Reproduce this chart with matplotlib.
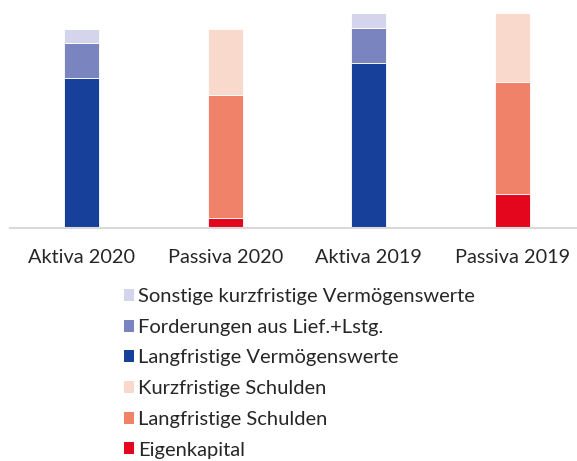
import matplotlib
matplotlib.use("Agg")
import matplotlib.pyplot as plt
from matplotlib.patches import Patch
import numpy as np

# Bilanzstruktur (relative units)
categories = ["Aktiva 2020", "Passiva 2020", "Aktiva 2019", "Passiva 2019"]

# Aktiva (bottom -> top)
langfristige_vw = [150.3, 0, 165.0, 0]
forderungen = [34.7, 0, 35.3, 0]
sonstige_kurzfr_vw = [13.7, 0, 14.4, 0]

# Passiva (bottom -> top)
eigenkapital = [0, 9.7, 0, 33.7]
langfristige_schulden = [0, 123.0, 0, 112.3]
kurzfristige_schulden = [0, 66.3, 0, 68.7]

series = [
    ("Langfristige Vermögenswerte", langfristige_vw, "#17409a"),
    ("Forderungen aus Lief.+Lstg.", forderungen, "#7a84bf"),
    ("Sonstige kurzfristige Vermögenswerte", sonstige_kurzfr_vw, "#d4d5ec"),
    ("Eigenkapital", eigenkapital, "#e3061d"),
    ("Langfristige Schulden", langfristige_schulden, "#ef8268"),
    ("Kurzfristige Schulden", kurzfristige_schulden, "#fad9cd"),
]
legend_order = [
    "Sonstige kurzfristige Vermögenswerte",
    "Forderungen aus Lief.+Lstg.",
    "Langfristige Vermögenswerte",
    "Kurzfristige Schulden",
    "Langfristige Schulden",
    "Eigenkapital",
]

plt.rcParams["font.family"] = ["Lato", "DejaVu Sans"]
text_color = "#262626"

fig = plt.figure(figsize=(5.77, 4.61), dpi=100)
ax = fig.add_axes([10 / 577, 233 / 461, 574 / 577, 228 / 461])

x = np.arange(len(categories))
bottoms = np.zeros(len(categories))
for name, vals, color in series:
    vals = np.array(vals, dtype=float)
    ax.bar(x, vals, width=0.244, bottom=bottoms, color=color,
           edgecolor="white", linewidth=0.6)
    bottoms += vals

ax.set_xlim(-0.5, len(categories) - 0.5)
ax.set_ylim(0, 228)
ax.set_xticks(x)
ax.set_xticklabels(categories, fontsize=14.3, color=text_color)
ax.tick_params(axis="x", length=0, pad=15)
ax.set_yticks([])
for side in ["top", "right", "left"]:
    ax.spines[side].set_visible(False)
ax.spines["bottom"].set_color("#d9d9d9")
ax.spines["bottom"].set_linewidth(1.5)

colors = {name: color for name, _, color in series}
handles = [Patch(facecolor=colors[n], edgecolor="none", label=n) for n in legend_order]
fig.legend(handles=handles, loc="upper left", bbox_to_anchor=(116 / 577, 1 - 280 / 461),
           frameon=False, fontsize=14.5, labelcolor=text_color,
           handlelength=0.5, handleheight=0.55, handletextpad=0.2,
           labelspacing=0.68, borderaxespad=0)

fig.savefig("out.png", dpi=100)
